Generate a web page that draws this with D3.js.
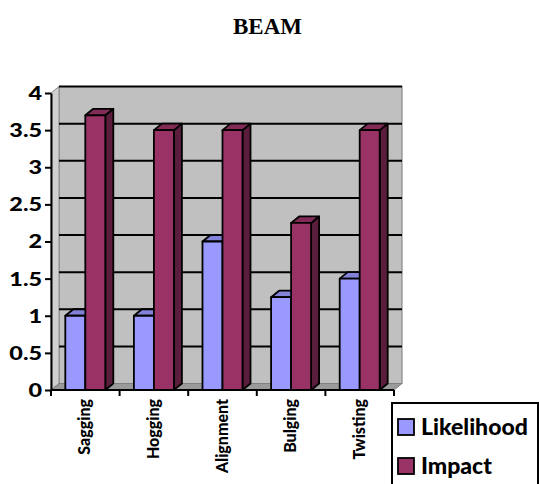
<!DOCTYPE html>
<html>
<head>
<meta charset="utf-8">
<script src="https://cdn.jsdelivr.net/npm/d3@7/dist/d3.min.js"></script>
<style>
  html, body { margin: 0; padding: 0; background: #fff; }
  svg { display: block; }
</style>
</head>
<body>
<script>
// Chart data
const title = "BEAM";
const categories = ["Sagging", "Hogging", "Alignment", "Bulging", "Twisting"];
const seriesNames = ["Likelihood", "Impact"];
const likelihood = [1, 1, 2, 1.25, 1.5];
const impact = [3.7, 3.5, 3.5, 2.25, 3.5];
const yTickValues = [0, 0.5, 1, 1.5, 2, 2.5, 3, 3.5, 4];
const seriesColors = ["#9999FF", "#993366"];

(function () {
  const W = 539, H = 484;
  const plotLeft = 51, plotRight = 394, plotBottom = 390, plotTop = 93;
  const dx = 8, dy = -6.5;   // depth offset of the 3D box

  const svg = d3.select("body").append("svg")
    .attr("width", W).attr("height", H);

  const x0 = d3.scaleBand().domain(categories).range([plotLeft, plotRight]).padding(0);
  const x1 = d3.scaleBand().domain(seriesNames)
    .range([0, x0.bandwidth()]).paddingInner(0).paddingOuter(0.715);
  const y = d3.scaleLinear().domain([0, 4]).range([plotBottom, plotTop]);

  // Title
  svg.append("text")
    .attr("x", 267.5).attr("y", 34)
    .attr("text-anchor", "middle")
    .style("font-family", "'Liberation Serif', 'Times New Roman', serif")
    .style("font-weight", "bold").style("font-size", "23px")
    .text(title);

  // Walls and floor
  const g = svg.append("g");
  g.append("polygon") // back wall
    .attr("points", [[plotLeft + dx, y(4) + dy], [plotRight + dx, y(4) + dy], [plotRight + dx, y(0) + dy], [plotLeft + dx, y(0) + dy]].join(" "))
    .attr("fill", "#C0C0C0").attr("stroke", "#8a8a8a").attr("stroke-width", 1.2);
  g.append("polygon") // side wall
    .attr("points", [[plotLeft, y(4)], [plotLeft + dx, y(4) + dy], [plotLeft + dx, y(0) + dy], [plotLeft, y(0)]].join(" "))
    .attr("fill", "#D0D0D0").attr("stroke", "#8a8a8a").attr("stroke-width", 1);
  g.append("polygon") // floor
    .attr("points", [[plotLeft, y(0)], [plotLeft + dx, y(0) + dy], [plotRight + dx, y(0) + dy], [plotRight, y(0)]].join(" "))
    .attr("fill", "#9a9a9a").attr("stroke", "#808080").attr("stroke-width", 1);

  // Gridlines on the back wall
  yTickValues.filter(v => v > 0).forEach(v => {
    g.append("line")
      .attr("x1", plotLeft + dx).attr("x2", plotRight + dx)
      .attr("y1", y(v) + dy).attr("y2", y(v) + dy)
      .attr("stroke", "#000").attr("stroke-width", 2);
  });

  // 3D columns
  const bars = svg.append("g").attr("stroke", "#000").attr("stroke-width", 1.8).attr("stroke-linejoin", "round");
  categories.forEach((c, i) => {
    [likelihood[i], impact[i]].forEach((v, s) => {
      const name = seriesNames[s];
      const bx = x0(c) + x1(name), bw = x1.bandwidth();
      const yt = y(v), yb = y(0);
      const base = d3.color(seriesColors[s]);
      bars.append("polygon") // side face
        .attr("points", [[bx + bw, yt], [bx + bw + dx, yt + dy], [bx + bw + dx, yb + dy], [bx + bw, yb]].join(" "))
        .attr("fill", base.darker(1.5).formatHex());
      bars.append("polygon") // top face
        .attr("points", [[bx, yt], [bx + dx, yt + dy], [bx + bw + dx, yt + dy], [bx + bw, yt]].join(" "))
        .attr("fill", base.darker(0.45).formatHex());
      bars.append("rect") // front face
        .attr("x", bx).attr("y", yt).attr("width", bw).attr("height", yb - yt)
        .attr("fill", seriesColors[s]);
    });
  });

  // Y axis
  const yLabelScale = 1.3;
  const yAxis = svg.append("g")
    .attr("transform", `translate(${plotLeft},0)`)
    .call(d3.axisLeft(y).tickValues(yTickValues).tickSize(6).tickSizeOuter(0).tickFormat(d3.format("")));
  yAxis.select(".domain").attr("stroke", "#000").attr("stroke-width", 2);
  yAxis.selectAll(".tick line").attr("stroke", "#000").attr("stroke-width", 2);
  yAxis.selectAll(".tick text")
    .attr("x", -9 / yLabelScale)
    .attr("dy", "0.36em")
    .attr("transform", `scale(${yLabelScale},1)`)
    .style("font-family", "Lato, 'Open Sans', sans-serif")
    .style("font-weight", "900").style("font-size", "18px").attr("fill", "#000");

  // X axis: line, ticks at category boundaries, rotated labels
  const xAxis = svg.append("g");
  xAxis.append("line")
    .attr("x1", plotLeft).attr("x2", plotRight).attr("y1", y(0)).attr("y2", y(0))
    .attr("stroke", "#000").attr("stroke-width", 2);
  categories.map(c => x0(c)).concat([plotRight]).forEach(t => {
    xAxis.append("line")
      .attr("x1", t).attr("x2", t).attr("y1", y(0)).attr("y2", y(0) + 6)
      .attr("stroke", "#000").attr("stroke-width", 2);
  });
  categories.forEach(c => {
    const cx = x0(c) + x0.bandwidth() / 2 + 5;
    xAxis.append("text")
      .attr("transform", `translate(${cx},399) rotate(-90)`)
      .attr("text-anchor", "end")
      .style("font-family", "Lato, 'Open Sans', sans-serif")
      .style("font-weight", "900").style("font-size", "16px")
      .text(c);
  });

  // Legend
  const legend = svg.append("g");
  legend.append("rect")
    .attr("x", 392).attr("y", 403).attr("width", 146).attr("height", 110)
    .attr("fill", "#fff").attr("stroke", "#000").attr("stroke-width", 2);
  seriesNames.forEach((name, s) => {
    const ly = 427 + s * 39;
    legend.append("rect")
      .attr("x", 398).attr("y", ly - 8).attr("width", 16).attr("height", 16)
      .attr("fill", seriesColors[s]).attr("stroke", "#000").attr("stroke-width", 1.8);
    legend.append("text")
      .attr("x", 421).attr("y", ly + 8)
      .style("font-family", "Lato, 'Open Sans', sans-serif")
      .style("font-weight", "900").style("font-size", "23px")
      .text(name);
  });
})();
</script>
</body>
</html>
